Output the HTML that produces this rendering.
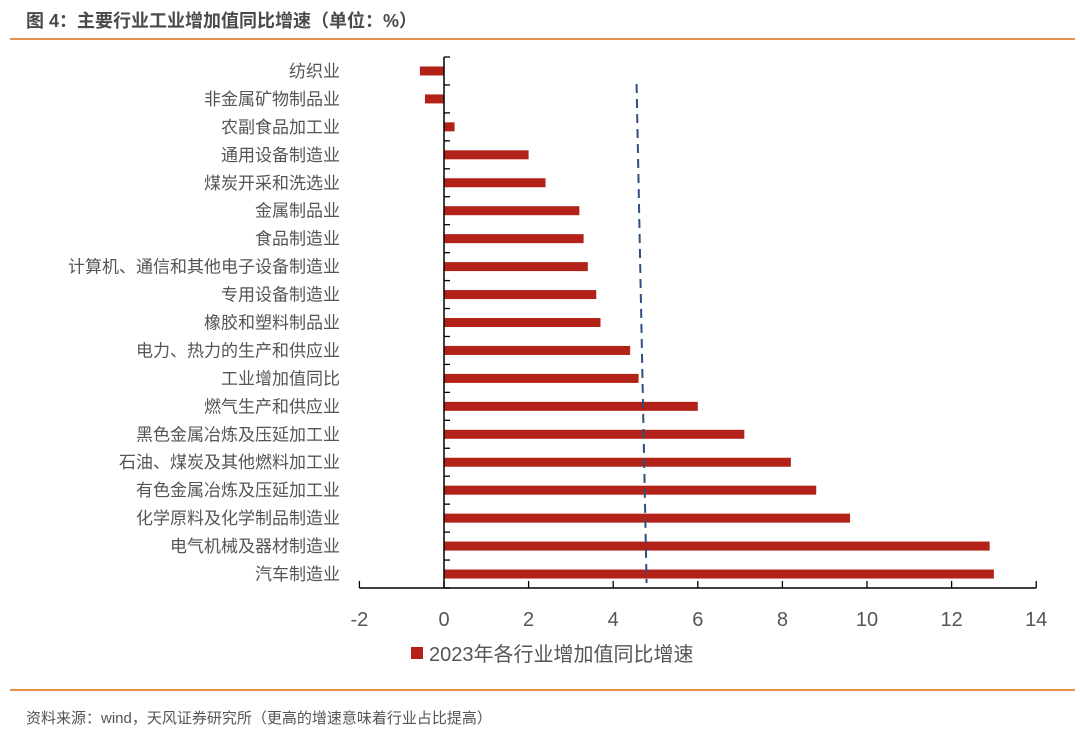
<!DOCTYPE html>
<html><head><meta charset="utf-8"><style>
body{margin:0;background:#fff;width:1080px;height:737px;overflow:hidden;font-family:"Liberation Sans","Noto Sans CJK SC",sans-serif;}
</style></head><body>
<svg width="1080" height="737" xmlns="http://www.w3.org/2000/svg">
<text x="26" y="27" font-size="18" font-weight="bold" fill="#4a4a4a" font-family="Liberation Sans,Noto Sans CJK SC,sans-serif">图 4：主要行业工业增加值同比增速（单位：%）</text>
<line x1="10" y1="39" x2="1075" y2="39" stroke="#e8914a" stroke-width="2"/>
<g id="plot"></g>
<rect x="411" y="647" width="12" height="12" fill="#b22218"/>
<text x="429" y="661" font-size="20" fill="#555" font-family="Liberation Sans,Noto Sans CJK SC,sans-serif">2023年各行业增加值同比增速</text>
<line x1="10" y1="690" x2="1075" y2="690" stroke="#e8914a" stroke-width="2"/>
<text x="26" y="723" font-size="15" fill="#555" font-family="Liberation Sans,Noto Sans CJK SC,sans-serif">资料来源：wind，天风证券研究所（更高的增速意味着行业占比提高）</text>
</svg>
<script>
const categories=["纺织业","非金属矿物制品业","农副食品加工业","通用设备制造业","煤炭开采和洗选业","金属制品业","食品制造业","计算机、通信和其他电子设备制造业","专用设备制造业","橡胶和塑料制品业","电力、热力的生产和供应业","工业增加值同比","燃气生产和供应业","黑色金属冶炼及压延加工业","石油、煤炭及其他燃料加工业","有色金属冶炼及压延加工业","化学原料及化学制品制造业","电气机械及器材制造业","汽车制造业"];
const values=[-0.57,-0.45,0.25,2.0,2.4,3.2,3.3,3.4,3.6,3.7,4.4,4.6,6.0,7.1,8.2,8.8,9.6,12.9,13.0];
const xTicks=[-2,0,2,4,6,8,10,12,14];
const refValue=4.6;
const NS="http://www.w3.org/2000/svg";
const g=document.getElementById('plot');
const x=v=>444+(v)*42.3;
const top0=57, bottom=588, n=categories.length;
const band=(bottom-top0)/n;
const y=i=>top0+band*(i+0.5);
function mk(t,a){const e=document.createElementNS(NS,t);for(const k in a)e.setAttribute(k,a[k]);g.appendChild(e);return e;}
categories.forEach((c,i)=>{
 const v=values[i];
 const r=mk('rect',{x:Math.min(x(0),x(v)),y:y(i)-4.5,width:Math.abs(x(v)-x(0)),height:9,fill:'#b22218'});
 
 
 const t=mk('text',{x:340,y:y(i)+6,'text-anchor':'end','font-size':17,fill:'#555'});
 t.textContent=c;
 
 
});
for(let i=0;i<=n;i++){const l=mk('line',{x1:444,x2:450,y1:top0+band*i,y2:top0+band*i,stroke:'#000','stroke-width':1.3});
 
 }
const ya=mk('line',{x1:444,x2:444,y1:top0,y2:bottom,stroke:'#000','stroke-width':1.5});


const xa=mk('line',{x1:x(-2),x2:x(14),y1:bottom,y2:bottom,stroke:'#000','stroke-width':1.5});


xTicks.forEach(v=>{
 const l=mk('line',{x1:x(v),x2:x(v),y1:bottom-7,y2:bottom,stroke:'#000','stroke-width':1.3});
 
 
 const t=mk('text',{x:x(v),y:626,'text-anchor':'middle','font-size':20,fill:'#555'});
 t.textContent=v;
 
 
});
const d=mk('line',{x1:x(refValue)-2,x2:x(refValue)+8,y1:84,y2:583,stroke:'#2f4f80','stroke-width':2,'stroke-dasharray':'9,6'});


</script>
</body></html>
